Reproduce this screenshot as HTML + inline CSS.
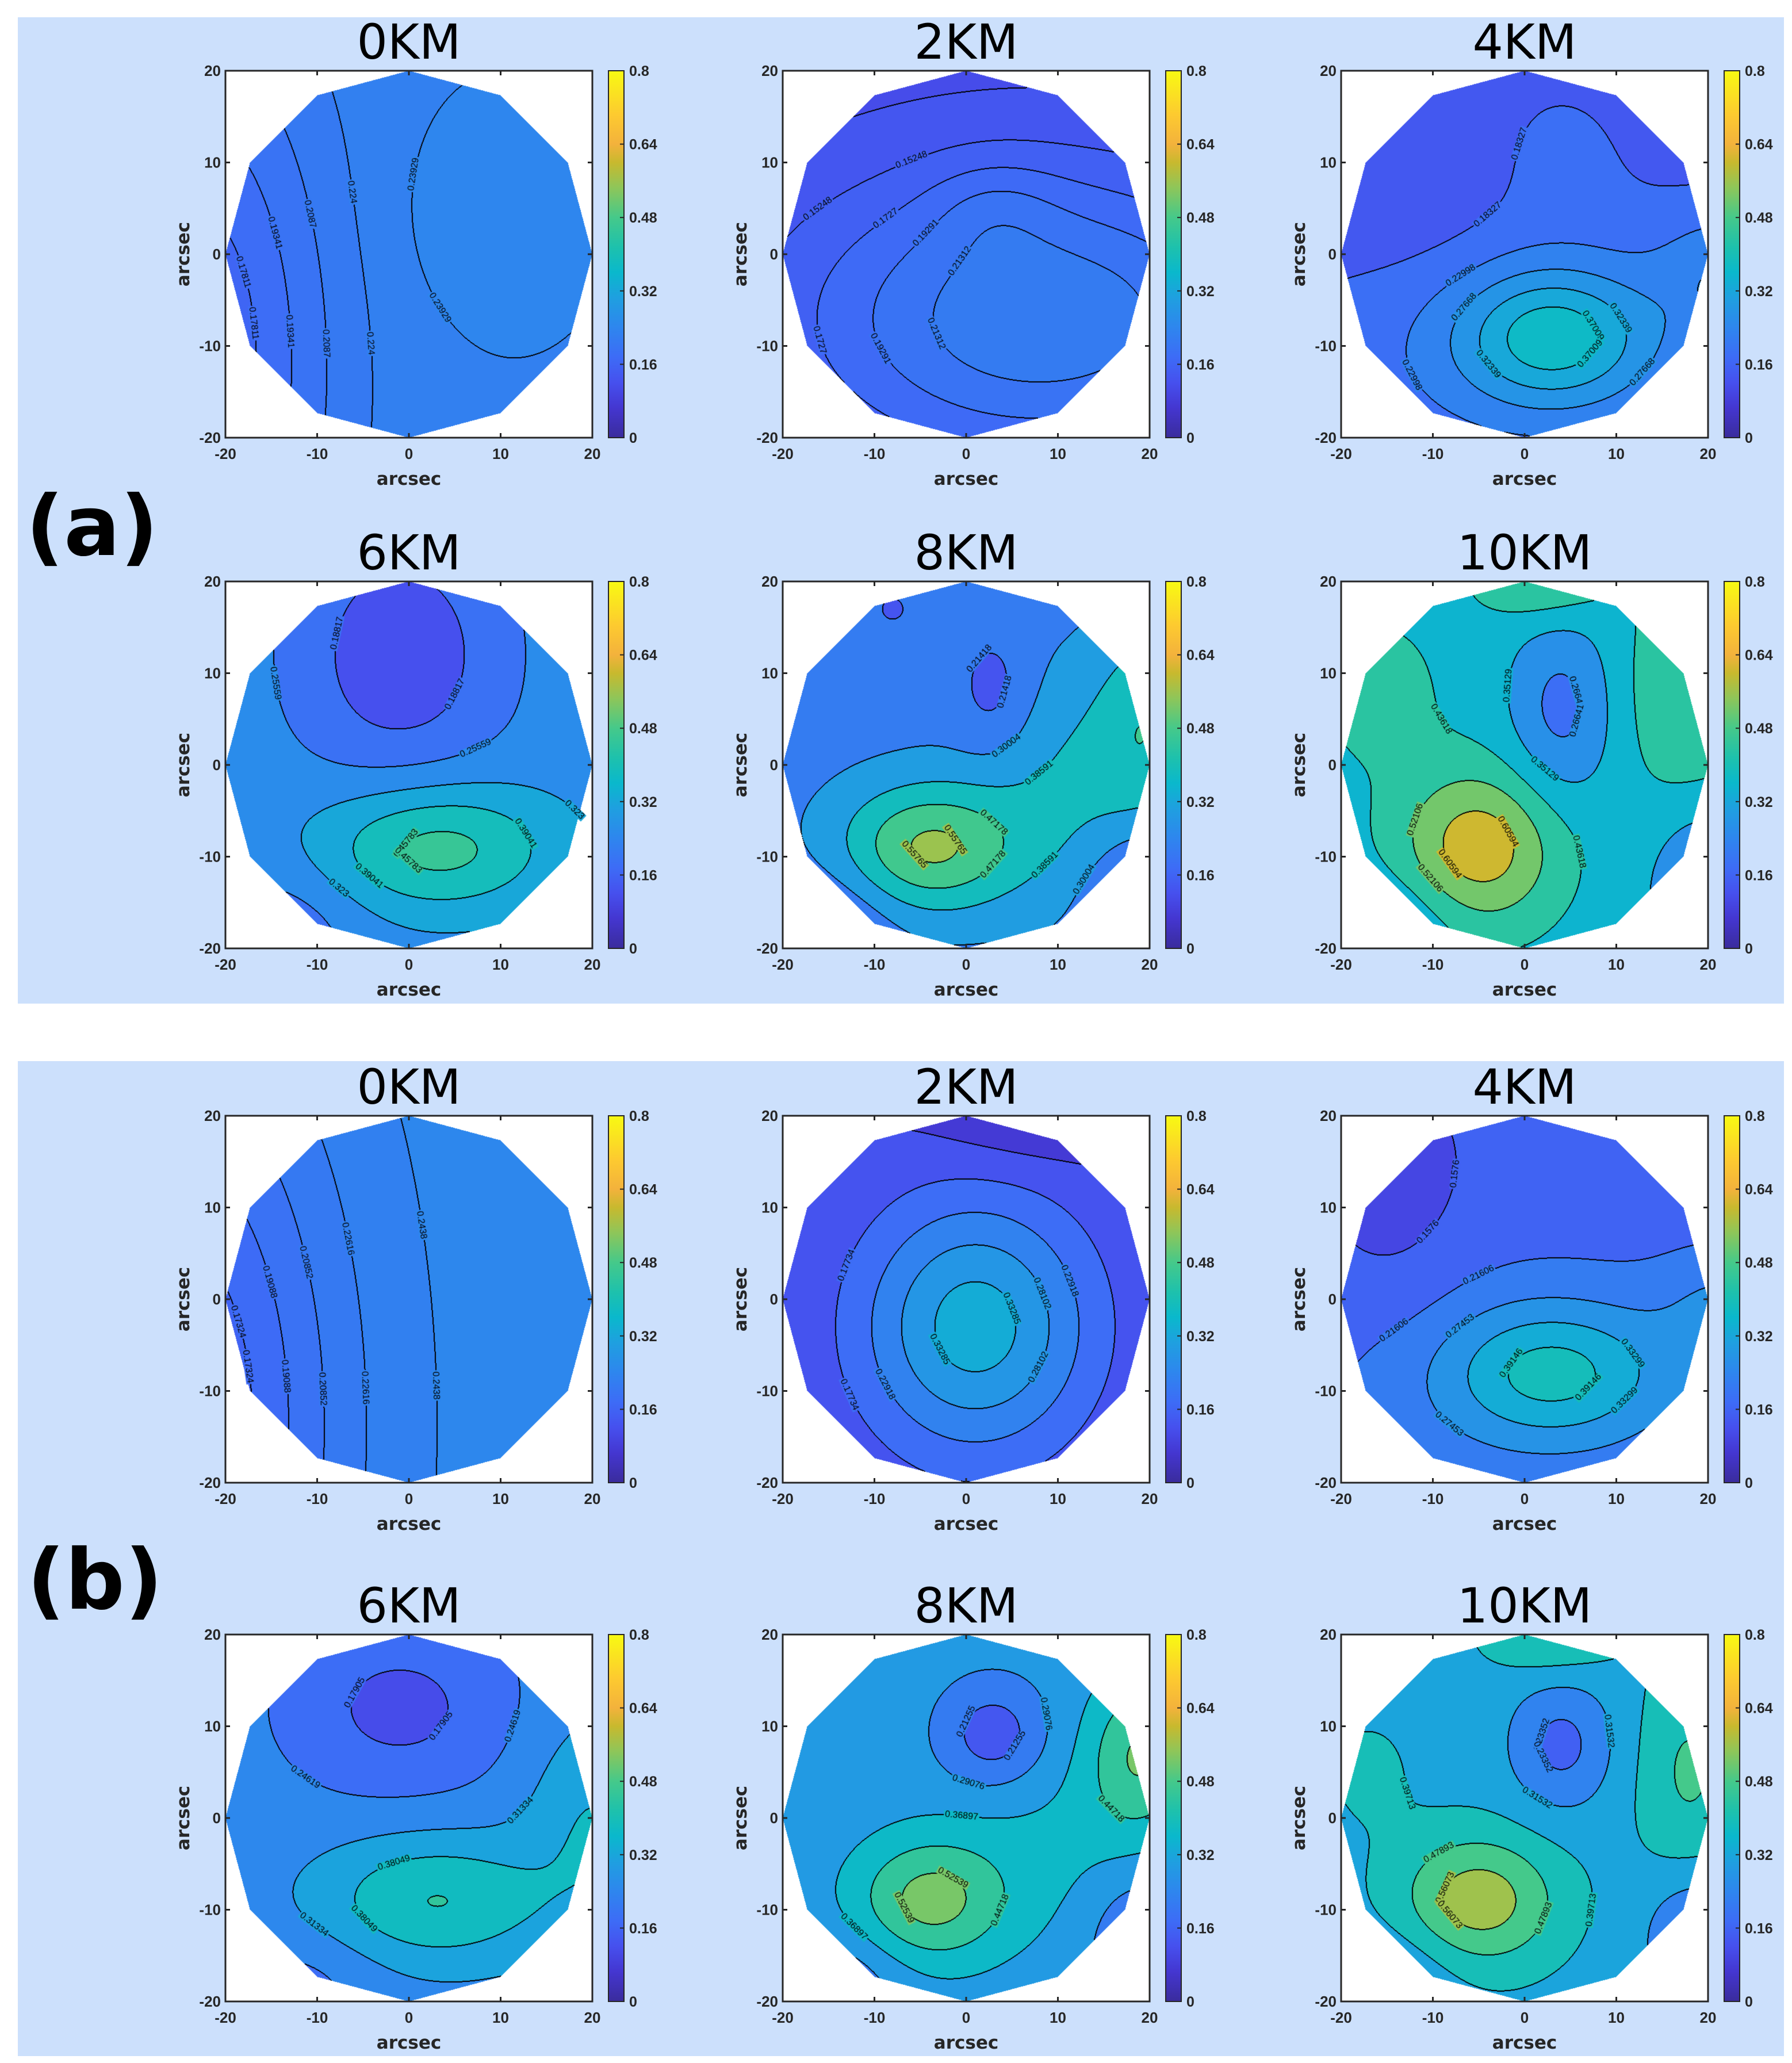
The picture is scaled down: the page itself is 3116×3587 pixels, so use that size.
<!DOCTYPE html>
<html><head><meta charset="utf-8">
<style>
html,body{margin:0;padding:0;background:#fff;}
#root{position:relative;width:3116px;height:3587px;overflow:hidden;background:#fff;}
.bg{position:absolute;background:#cce0fc;}
canvas{position:absolute;}
svg{position:absolute;left:0;top:0;}
</style></head>
<body>
<div id="root">
  <div class="bg" style="left:31px;top:30px;width:3071px;height:1715px"></div>
  <div class="bg" style="left:31px;top:1845px;width:3071px;height:1730px"></div>
</div>
<script>
// ---- data ----
const TITLES = ['0KM','2KM','4KM','6KM','8KM','10KM','0KM','2KM','4KM','6KM','8KM','10KM'];
const LEVELS_A0 = [0.17811,0.19341,0.2087,0.224,0.23929];
const LEVELS_A2 = [0.13227,0.15248,0.1727,0.19291,0.21312];
const LEVELS_A4 = [0.18327,0.22998,0.27668,0.32339,0.37009];
const LEVELS_A6 = [0.18817,0.25559,0.323,0.39041,0.45783];
const LEVELS_A8 = [0.21418,0.30004,0.38591,0.47178,0.55765];
const LEVELS_A10 = [0.26641,0.35129,0.43618,0.52106,0.60594];
const LEVELS_B0 = [0.17324,0.19088,0.20852,0.22616,0.2438];
const LEVELS_B2 = [0.1255,0.17734,0.22918,0.28102,0.33285];
const LEVELS_B4 = [0.1576,0.21606,0.27453,0.33299,0.39146];
const LEVELS_B6 = [0.17905,0.24619,0.31334,0.38049,0.44763];
const LEVELS_B8 = [0.21255,0.29076,0.36897,0.44718,0.52539];
const LEVELS_B10 = [0.23352,0.31532,0.39713,0.47893,0.56073];
const LEVELS = [LEVELS_A0,LEVELS_A2,LEVELS_A4,LEVELS_A6,LEVELS_A8,LEVELS_A10,LEVELS_B0,LEVELS_B2,LEVELS_B4,LEVELS_B6,LEVELS_B8,LEVELS_B10];
const BASES = [0.238,0.12,0.16,0.29,0.27,0.40,0.252,0.12,0.17,0.28,0.32,0.37];
// bumps: [amplitude, cx, cy, sx, sy] in arcsec
const BUMPS_A0 = [[-0.075,-24,-12,11,26],[0.012,8,4,7,8]];
const BUMPS_A2 = [[0.11,8,-7,20,12],[0.02,3,5,5,4]];
const BUMPS_A4 = [[0.09,2,-10,18,10],[0.16,3,-9,7,5],[-0.03,-12,8,8,10],[0.03,3,12,6,6],[0.08,22,-2,5,5]];
const BUMPS_A6 = [[-0.15,-1,12,8,10],[0.2,3,-9,9,5],[-0.08,-14,-18,6,5]];
const BUMPS_A8 = [[0.3,-4,-9,7,5],[0.12,12,-2,7,9],[0.15,20,5,4,8],[-0.1,3,8,3,5],[-0.15,19,-14,4,5],[-0.1,-15,-18,5,5],[-0.06,-8,17,3,3]];
const BUMPS_A10 = [[0.26,-5,-9,6,6],[-0.16,4,6,4,7],[0.12,18,8,5,8],[0.13,2,20,5,3],[-0.18,20,-14,4,6],[-0.08,-14,-17,5,4],[0.07,-16,8,5,6]];
const BUMPS_B0 = [[-0.1,-26,-14,13,30]];
const BUMPS_B2 = [[0.24,1,-3,9,10],[-0.05,7,20,8,4]];
const BUMPS_B4 = [[0.1,2,-9,18,10],[0.15,3,-8,8,5],[-0.04,-14,8,6,10],[0.08,22,-1,5,5]];
const BUMPS_B6 = [[-0.12,-1,12,9,7],[0.17,3,-9,9,5],[0.1,20,0,5,8],[-0.06,-12,-18,6,4]];
const BUMPS_B8 = [[0.23,-4,-9,6,5],[-0.16,3,9,4,4],[0.2,19,7,4,6],[-0.12,19,-13,4,5],[-0.1,-14,-18,5,4],[0.06,10,-3,8,8]];
const BUMPS_B10 = [[0.24,-5,-9,6,5],[-0.16,4,8,4,5],[0.12,18,5,4,8],[0.12,3,20,5,3],[-0.16,19,-13,4,5],[-0.07,-14,-17,5,4],[0.04,-17,5,4,5]];
const BUMPS = [BUMPS_A0,BUMPS_A2,BUMPS_A4,BUMPS_A6,BUMPS_A8,BUMPS_A10,BUMPS_B0,BUMPS_B2,BUMPS_B4,BUMPS_B6,BUMPS_B8,BUMPS_B10];
const XTICKS = [-20,-10,0,10,20];
const YTICKS = [-20,-10,0,10,20];
const CTICKS = [0,0.16,0.32,0.48,0.64,0.8];
const CTICK_LABELS = ['0','0.16','0.32','0.48','0.64','0.8'];

// ---- layout ----
const COL_LEFTS = [392,1361,2332];
const ROW_TOPS = [123,1011,1940,2842];
const S = 638, CMAX = 0.8;
const PSTOPS = [[0,'#3a2c9c'],[0.08,'#4436d0'],[0.15,'#4650ee'],[0.22,'#3d6cf6'],[0.3,'#2e86ee'],[0.38,'#1f9fe0'],[0.45,'#0ab8cc'],[0.52,'#1ec1ac'],[0.6,'#45c98a'],[0.68,'#8dc65a'],[0.75,'#c8b92e'],[0.8,'#f3b23c'],[0.88,'#fdca30'],[1,'#f8fa12']];
function hex(h){return [parseInt(h.substr(1,2),16),parseInt(h.substr(3,2),16),parseInt(h.substr(5,2),16)];}
const PRGB = PSTOPS.map(s=>[s[0],hex(s[1])]);
function parula(t){t=Math.max(0,Math.min(1,t));for(let i=1;i<PRGB.length;i++){if(t<=PRGB[i][0]){const a=PRGB[i-1],b=PRGB[i];const u=(t-a[0])/(b[0]-a[0]);return [0,1,2].map(k=>Math.round(a[1][k]+(b[1][k]-a[1][k])*u));}}return PRGB[PRGB.length-1][1];}
function field(p,x,y){let v=BASES[p];for(const b of BUMPS[p]){const dx=x-b[1],dy=y-b[2];v+=b[0]*Math.exp(-(dx*dx/(2*b[3]*b[3])+dy*dy/(2*b[4]*b[4])));}return v;}
const AP = 20*Math.cos(Math.PI/12);
const NORMALS=[];for(let k=0;k<12;k++){const th=(15+30*k)*Math.PI/180;NORMALS.push([Math.cos(th),Math.sin(th)]);}
function inside(x,y){for(const n of NORMALS){if(x*n[0]+y*n[1]>AP)return false;}return true;}

const root=document.getElementById('root');
const NS='http://www.w3.org/2000/svg';
const svg=document.createElementNS(NS,'svg');
svg.setAttribute('width','3116');svg.setAttribute('height','3587');


const defs=document.createElementNS(NS,'defs');
const grad=document.createElementNS(NS,'linearGradient');
grad.setAttribute('id','parula');grad.setAttribute('x1','0');grad.setAttribute('y1','1');grad.setAttribute('x2','0');grad.setAttribute('y2','0');
for(const s of PSTOPS){const st=document.createElementNS(NS,'stop');st.setAttribute('offset',s[0]);st.setAttribute('stop-color',s[1]);grad.appendChild(st);}
defs.appendChild(grad);svg.appendChild(defs);

function mk(tag,attrs,parent,text){const e=document.createElementNS(NS,tag);for(const k in attrs)e.setAttribute(k,attrs[k]);if(text!==undefined)e.textContent=text;(parent||svg).appendChild(e);return e;}

function drawPanel(p){
  const g=p<6?0:1, r=Math.floor((p%6)/3), c=p%3;
  const L=COL_LEFTS[c], T=ROW_TOPS[g*2+r];
  const xs=v=>L+(v+20)/40*S, ys=v=>T+(20-v)/40*S;
  const lev=LEVELS[p], step=lev[1]-lev[0], vmin=lev[0]-step;
  const cv=document.createElement('canvas');
  cv.width=S;cv.height=S;cv.style.left=L+'px';cv.style.top=T+'px';
  
  
  root.appendChild(cv);
  const ctx=cv.getContext('2d');
  const img=ctx.createImageData(S,S);
  const band=new Int8Array(S*S);
  const bandCol=[];
  for(let k=0;k<=lev.length;k++){bandCol.push(parula((k===0?vmin:lev[k-1])/CMAX));}
  for(let j=0;j<S;j++){const y=20-40*(j+0.5)/S;for(let i=0;i<S;i++){const x=-20+40*(i+0.5)/S;const id=j*S+i;
    if(!inside(x,y)){band[id]=-1;continue;}
    const v=field(p,x,y);let k=0;while(k<lev.length&&v>=lev[k])k++;band[id]=k;}}
  const line=new Uint8Array(S*S);
  const pts=lev.map(()=>[]);
  for(let j=0;j<S;j++)for(let i=0;i<S;i++){const id=j*S+i;const b=band[id];if(b<0)continue;
    if(i+1<S){const b2=band[id+1];if(b2>=0&&b2!==b){line[id]=1;line[id+1]=1;pts[Math.min(b,b2)].push([i,j]);}}
    if(j+1<S){const b2=band[id+S];if(b2>=0&&b2!==b){line[id]=1;line[id+S]=1;}}}
  for(let id=0;id<S*S;id++){const b=band[id];let col;
    if(b<0)col=[255,255,255];else if(line[id])col=[0,0,0];else col=bandCol[b];
    img.data[id*4]=col[0];img.data[id*4+1]=col[1];img.data[id*4+2]=col[2];img.data[id*4+3]=255;}
  ctx.putImageData(img,0,0);
  ctx.font='16px "Liberation Sans", sans-serif';ctx.textAlign='center';ctx.textBaseline='middle';
  lev.forEach((lv,k)=>{const arr=pts[k];if(arr.length<60)return;
    [0.3,0.75].forEach(fr=>{const q=arr[Math.floor(arr.length*fr)];const x=-20+40*(q[0]+0.5)/S,y=20-40*(q[1]+0.5)/S;
      const gx=field(p,x+0.1,y)-field(p,x-0.1,y),gy=-(field(p,x,y+0.1)-field(p,x,y-0.1));
      let a=Math.atan2(gx,-gy);if(a>Math.PI/2)a-=Math.PI;if(a<-Math.PI/2)a+=Math.PI;
      const txt=String(lv);const w=ctx.measureText(txt).width;
      ctx.save();ctx.translate(q[0],q[1]);ctx.rotate(a);
      ctx.fillStyle='rgb('+bandCol[k+1].join(',')+')';ctx.fillRect(-w/2-2,-7,w+4,14);
      ctx.fillStyle='#000';ctx.fillText(txt,0,0);ctx.restore();});
  });
  const box=mk('rect',{x:L,y:T,width:S,height:S,fill:'none',stroke:'#262626','stroke-width':3});
  
  
  XTICKS.forEach(v=>{const x=xs(v);
    mk('line',{x1:x,y1:T+S,x2:x,y2:T+S-8,stroke:'#262626','stroke-width':3});
    mk('line',{x1:x,y1:T,x2:x,y2:T+8,stroke:'#262626','stroke-width':3});
    const t=mk('text',{x:x,y:T+S+37,'text-anchor':'middle','font-family':'"Liberation Sans", sans-serif','font-size':26,'font-weight':'bold',fill:'#262626'},null,String(v));
    
    });
  YTICKS.forEach(v=>{const y=ys(v);
    mk('line',{x1:L,y1:y,x2:L+8,y2:y,stroke:'#262626','stroke-width':3});
    mk('line',{x1:L+S,y1:y,x2:L+S-8,y2:y,stroke:'#262626','stroke-width':3});
    const t=mk('text',{x:L-8,y:y+9,'text-anchor':'end','font-family':'"Liberation Sans", sans-serif','font-size':26,'font-weight':'bold',fill:'#262626'},null,String(v));
    
    });
  const xl=mk('text',{x:L+S/2,y:T+S+82,'text-anchor':'middle','font-family':'"DejaVu Sans", sans-serif','font-size':31,'font-weight':'bold',fill:'#262626'},null,'arcsec');
  
  
  const yl=mk('text',{x:0,y:0,transform:'translate('+(L-63)+','+(T+S/2)+') rotate(-90)','text-anchor':'middle','font-family':'"DejaVu Sans", sans-serif','font-size':31,'font-weight':'bold',fill:'#262626'},null,'arcsec');
  
  
  const tt=mk('text',{x:L+S/2,y:T-21,'text-anchor':'middle','font-family':'"DejaVu Sans", sans-serif','font-size':84,fill:'#000'},null,TITLES[p]);
  
  
  const CX=L+666, CW=27;
  const cs=v=>T+S-v/CMAX*S;
  const cb=mk('rect',{x:CX,y:T,width:CW,height:S,fill:'url(#parula)',stroke:'#262626','stroke-width':2});
  
  
  CTICKS.forEach((v,i)=>{const y=cs(v);
    mk('line',{x1:CX+CW,y1:y,x2:CX+CW-7,y2:y,stroke:'#262626','stroke-width':2});
    const t=mk('text',{x:CX+CW+9,y:y+9,'text-anchor':'start','font-family':'"Liberation Sans", sans-serif','font-size':25,'font-weight':'bold',fill:'#262626'},null,CTICK_LABELS[i]);
    
    });
}
for(let p=0;p<12;p++)drawPanel(p);
const la=mk('text',{x:160,y:965,'text-anchor':'middle','font-family':'"DejaVu Sans", sans-serif','font-size':145,'font-weight':'bold',fill:'#000'},null,'(a)');


const lb=mk('text',{x:165,y:2797,'text-anchor':'middle','font-family':'"DejaVu Sans", sans-serif','font-size':145,'font-weight':'bold',fill:'#000'},null,'(b)');


root.appendChild(svg);
</script>
</body></html>
